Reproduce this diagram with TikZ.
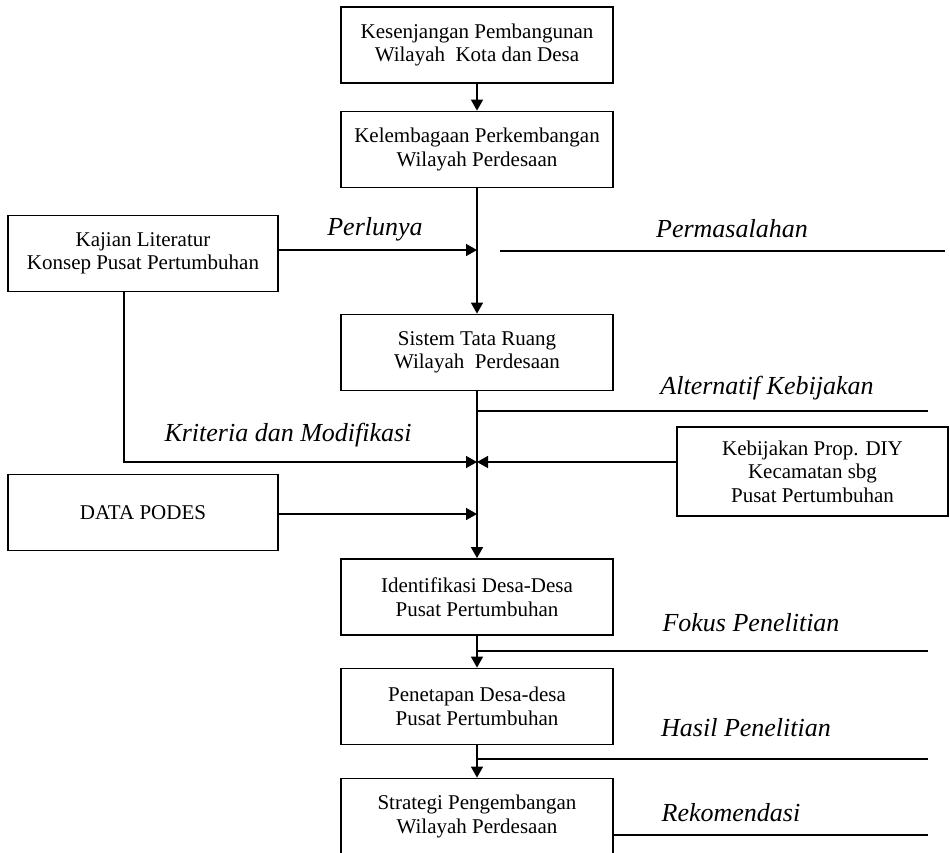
\documentclass[tikz,border=0pt]{standalone}
\usepackage{fontspec}
\setmainfont{Liberation Serif}
\usetikzlibrary{arrows.meta}

\begin{document}
\begin{tikzpicture}[x=1pt, y=-1pt, line width=1.5pt,
        box/.style={draw, line width=1.8pt, minimum width=272pt, minimum height=76pt, inner sep=0pt, align=center, font=\fontsize{21}{23.5}\selectfont},
        lbl/.style={font=\fontsize{26}{30}\selectfont\itshape},
        arr/.style={-{Triangle[length=11pt, width=12pt]}}]
        \useasboundingbox (0, 0) rectangle (950, 852);
        % main column
        \node[box] (kes) at (477, 45) {Kesenjangan Pembangunan\\Wilayah~ Kota dan Desa};
        \node[box] (kel) at (477, 149.5) {Kelembagaan Perkembangan\\Wilayah Perdesaan};
        \node[box] (sis) at (477, 352.5) {Sistem Tata Ruang\\Wilayah~ Perdesaan};
        \node[box] (ide) at (477, 597) {Identifikasi Desa-Desa\\Pusat Pertumbuhan};
        \node[box] (pen) at (477, 706.5) {Penetapan Desa-desa\\Pusat Pertumbuhan};
        \node[box] (str) at (477, 816.5) {Strategi Pengembangan\\Wilayah Perdesaan};
        % side boxes
        \node[box, minimum width=270pt] (kaj) at (143, 253.5) {Kajian Literatur\\Konsep Pusat Pertumbuhan};
        \node[box, minimum width=270pt] (data) at (143, 512.5) {DATA PODES};
        \node[box, minimum width=271pt, minimum height=89pt] (keb) at (812.5, 471.5) {Kebijakan Prop. DIY\\Kecamatan sbg\\Pusat Pertumbuhan};
        \coordinate (jk) at (477, 250);
        \coordinate (jm) at (477, 462);
        \coordinate (jd) at (477, 514);
        % arrows
        \draw[arr] (kes) -- (kel);
        \draw[arr] (kel) -- (sis);
        \draw[arr] (sis) -- (ide);
        \draw[arr] (ide) -- (pen);
        \draw[arr] (pen) -- (str);
        \draw[arr] (kaj.east |- jk) -- (jk);
        \draw[arr] ([xshift=-19pt]kaj.south) |- (jm);
        \draw[arr] (keb.west |- jm) -- (jm);
        \draw[arr] (data.east |- jd) -- (jd);
        % stage lines
        \draw (500, 251) -- (945, 251);
        \draw (sis.south |- 0, 411) -- (928, 411);
        \draw (ide.south |- 0, 651) -- (928, 651);
        \draw (pen.south |- 0, 759) -- (928, 759);
        \draw (str.east |- 0, 835) -- (928, 835);
        % labels
        \node[lbl] (perlu) at (375, 229) {Perlunya};
        \node[lbl] (masalah) at (732, 229) {Permasalahan};
        \node[lbl] (alt) at (767, 388) {Alternatif Kebijakan};
        \node[lbl] (krit) at (288, 435) {Kriteria dan Modifikasi};
        \node[lbl] (fokus) at (751, 623) {Fokus Penelitian};
        \node[lbl] (hasil) at (746, 728) {Hasil Penelitian};
        \node[lbl] (rekom) at (731, 813) {Rekomendasi};
    \end{tikzpicture}
\end{document}
